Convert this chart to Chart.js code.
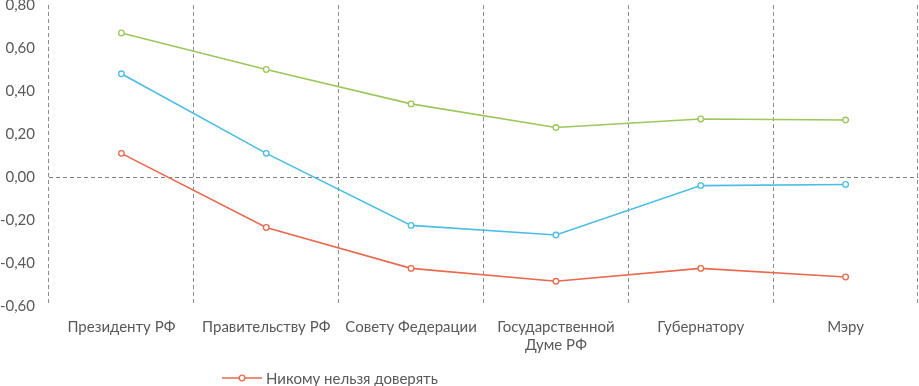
<!DOCTYPE html>
<html>
<head>
<meta charset="utf-8">
<script src="https://cdn.jsdelivr.net/npm/chart.js@4"></script>
<style>
  body { margin: 0; background: #fff; }
  #wrap { position: relative; width: 919px; height: 386px; }
  #legend { position: absolute; left: 222px; top: 369px; font: 15px Lato, sans-serif; color: #595959; display: flex; align-items: center; }
  #legend svg { margin-right: 4px; }
</style>
</head>
<body>
<div id="wrap">
  <canvas id="trustChart" width="919" height="386"></canvas>
  <div id="legend">
    <svg width="40" height="10"><line x1="0" y1="5" x2="40" y2="5" stroke="#E9694E" stroke-width="1.5"/><circle cx="20" cy="5" r="2.8" fill="#fff" stroke="#E9694E" stroke-width="1.3"/></svg>
    <span>Никому нельзя доверять</span>
  </div>
</div>
<script>
var labels = ['Президенту РФ', 'Правительству РФ', 'Совету Федерации', ['Государственной', 'Думе РФ'], 'Губернатору', 'Мэру'];
var greenSeries = [0.67, 0.50, 0.34, 0.23, 0.27, 0.265];
var blueSeries = [0.48, 0.11, -0.225, -0.27, -0.04, -0.035];
var redSeries = [0.11, -0.235, -0.425, -0.485, -0.425, -0.465];

function series(label, data, color) {
    return {
        label: label,
        data: data,
        borderColor: color,
        backgroundColor: '#fff',
        borderWidth: 1.6,
        pointRadius: 2.8,
        pointBorderWidth: 1.3,
        pointBackgroundColor: '#fff',
        tension: 0
    };
}

const ctx = document.getElementById('trustChart').getContext('2d');
var trustChart = new Chart(ctx, {
    type: 'line',
    data: {
        labels: labels,
        datasets: [
            series('Доверяют', greenSeries, '#9DC65B'),
            series('Баланс', blueSeries, '#4BBDE5'),
            series('Никому нельзя доверять', redSeries, '#E9694E')
        ]
    },
    options: {
        responsive: false,
        animation: false,
        layout: { autoPadding: false, padding: { top: 5, bottom: 22, right: 1, left: 0 } },
        plugins: {
            legend: { display: false },
            tooltip: { enabled: false }
        },
        scales: {
            x: {
                offset: true,
                grid: { offset: true, color: '#8c8c8c', drawTicks: false },
                border: { display: false, dash: [4, 3] },
                ticks: { color: '#595959', font: { family: 'Lato', size: 15 }, padding: 12, maxRotation: 0 },
                afterFit: function (scale) {
                    scale.height = 58;
                    scale.paddingLeft = 0;
                    scale.paddingRight = 0;
                }
            },
            y: {
                min: -0.6,
                max: 0.8,
                grid: {
                    drawTicks: false,
                    color: function (c) { return c.tick && Math.abs(c.tick.value) < 1e-9 ? '#7f7f7f' : 'transparent'; }
                },
                border: { display: false, dash: [4, 3] },
                ticks: {
                    stepSize: 0.2,
                    color: '#595959',
                    font: { family: 'Lato', size: 15 },
                    padding: 14,
                    callback: function (v) { return v.toFixed(2).replace('.', ','); }
                },
                afterFit: function (scale) {
                    scale.width = 49;
                    scale.paddingTop = 0;
                    scale.paddingBottom = 0;
                }
            }
        }
    }
});
</script>
</body>
</html>
